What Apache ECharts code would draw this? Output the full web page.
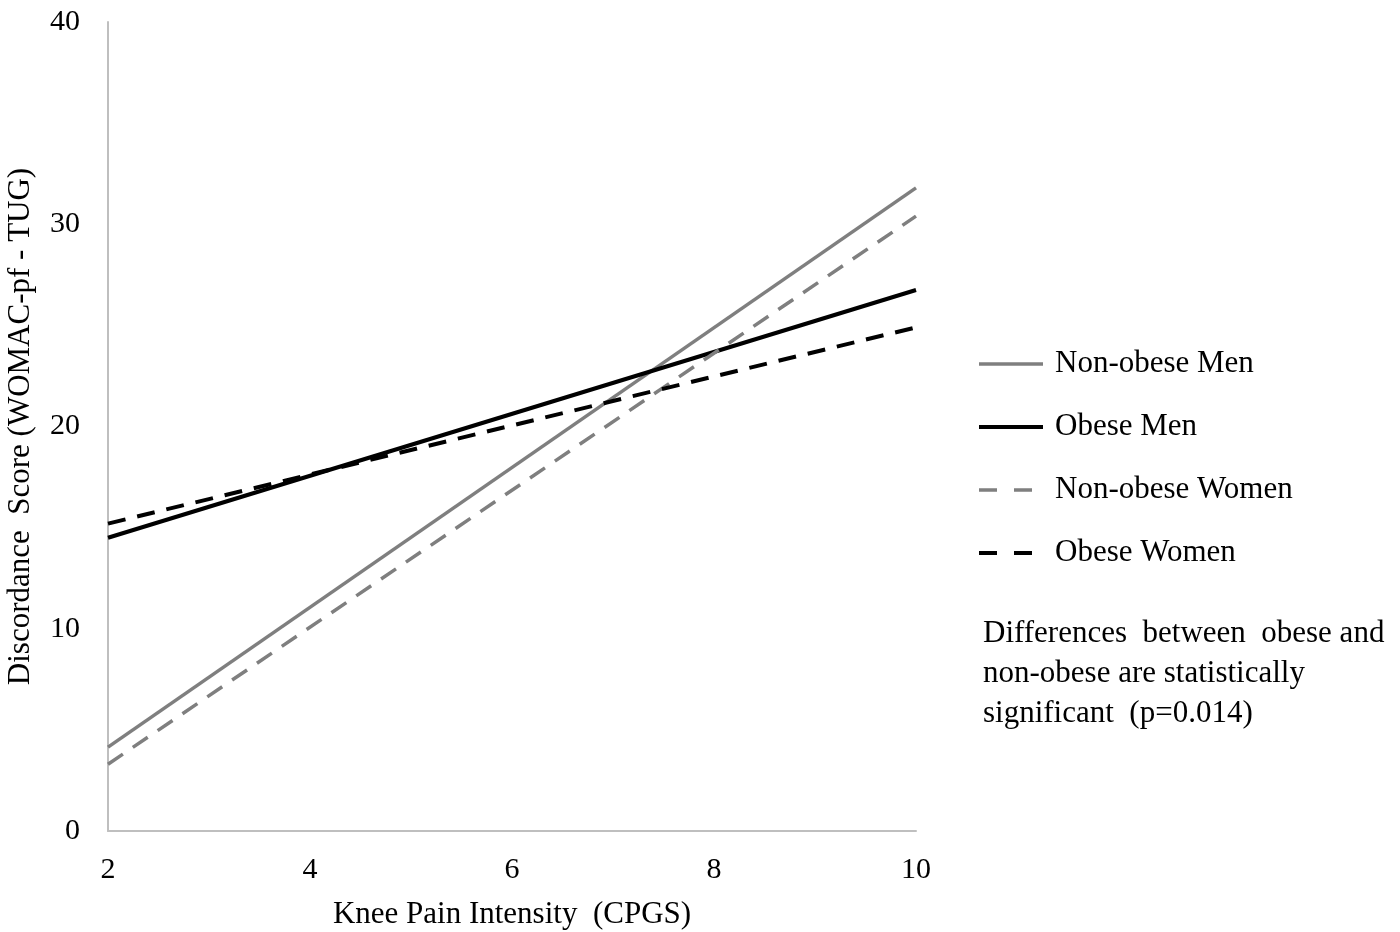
<!DOCTYPE html>
<html>
<head>
<meta charset="utf-8">
<script src="https://cdn.jsdelivr.net/npm/echarts@6/dist/echarts.min.js"></script>
<style>html,body{margin:0;padding:0;background:#fff}#c{width:1400px;height:932px}</style>
</head>
<body>
<div id="c"></div>
<script>
const xPoints = [2, 10];
const seriesNames = ['Non-obese Men', 'Obese Men', 'Non-obese Women', 'Obese Women'];
const nonObeseMen = [4.15, 31.8];
const obeseMen = [14.5, 26.75];
const nonObeseWomen = [3.3, 30.4];
const obeseWomen = [15.2, 24.9];
const xTicks = [2, 4, 6, 8, 10];
const yTicks = [0, 10, 20, 30, 40];
const noteLines = ['Differences  between  obese and', 'non-obese are statistically', 'significant  (p=0.014)'];

const FONT = "'Liberation Serif', 'Times New Roman', serif";
const values = [nonObeseMen, obeseMen, nonObeseWomen, obeseWomen];
const styles = [
  {color: '#7f7f7f', type: 'solid', legendType: 'solid', w: 3.5},
  {color: '#000000', type: 'solid', legendType: 'solid', w: 4},
  {color: '#7f7f7f', type: [18, 12], legendType: [18, 17], w: 3.5},
  {color: '#000000', type: [18, 12], legendType: [18, 17], w: 4}
];

const chart = echarts.init(document.getElementById('c'));
chart.setOption({
  backgroundColor: '#ffffff',
  animation: false,
  grid: {left: 108, right: 484, top: 22, bottom: 101, containLabel: false, outerBoundsMode: 'none'},
  xAxis: {
    type: 'value', min: xTicks[0], max: xTicks[xTicks.length - 1], interval: 2,
    name: 'Knee Pain Intensity  (CPGS)', nameLocation: 'middle', nameGap: 68,
    nameTextStyle: {fontFamily: FONT, fontSize: 31, color: '#000'},
    axisLine: {show: true, lineStyle: {color: '#bfbfbf', width: 2}},
    axisTick: {show: false},
    splitLine: {show: false},
    axisLabel: {fontFamily: FONT, fontSize: 30, color: '#000', margin: 24}
  },
  yAxis: {
    type: 'value', min: yTicks[0], max: yTicks[yTicks.length - 1], interval: 10,
    name: 'Discordance  Score (WOMAC-pf - TUG)', nameLocation: 'middle', nameGap: 72, nameRotate: 90,
    nameTextStyle: {fontFamily: FONT, fontSize: 31, color: '#000'},
    axisLine: {show: true, lineStyle: {color: '#bfbfbf', width: 2}},
    axisTick: {show: false},
    splitLine: {show: false},
    axisLabel: {fontFamily: FONT, fontSize: 30, color: '#000', margin: 28}
  },
  legend: {
    orient: 'vertical', left: 977, top: 348, padding: 0,
    itemWidth: 64, itemHeight: 14, itemGap: 31,
    itemStyle: {opacity: 0},
    data: seriesNames.map((n, i) => ({
      name: n,
      lineStyle: {color: styles[i].color, width: styles[i].w, type: styles[i].legendType}
    })),
    textStyle: {fontFamily: FONT, fontSize: 31, color: '#000', lineHeight: 32, padding: [0, 0, 0, 7]}
  },
  graphic: [{
    type: 'text', left: 983, top: 614,
    style: {text: noteLines.join('\n'), font: '31px ' + FONT, fill: '#000', lineHeight: 40}
  }],
  series: seriesNames.map((n, i) => ({
    name: n, type: 'line', showSymbol: false, symbol: 'none',
    data: xPoints.map((x, j) => [x, values[i][j]]),
    itemStyle: {color: styles[i].color},
    lineStyle: {color: styles[i].color, width: styles[i].w, type: styles[i].type}
  }))
});
</script>
</body>
</html>
